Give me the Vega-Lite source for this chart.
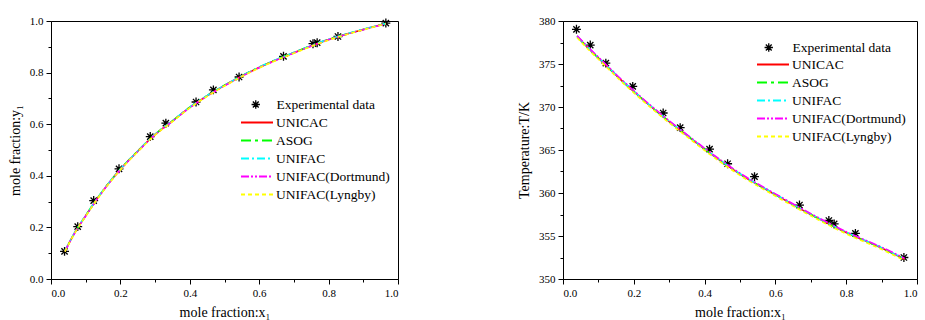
{
  "$schema": "https://vega.github.io/schema/vega-lite/v6.json",
  "autosize": {"type": "pad"},
  "padding": {"left": 7, "top": 14, "right": 5, "bottom": 5},
  "bounds": "flush",
  "spacing": 165,
  "config": {
    "view": {"stroke": "black", "strokeWidth": 1},
    "axis": {
      "grid": false,
      "domainColor": "black",
      "tickColor": "black",
      "labelColor": "black",
      "titleColor": "black",
      "labelFont": "Liberation Serif",
      "titleFont": "Liberation Serif",
      "labelFontSize": 11,
      "titleFontSize": 14,
      "titleFontWeight": "normal"
    },
    "legend": {
      "labelFont": "Liberation Serif",
      "labelFontSize": 13.5,
      "labelColor": "black",
      "padding": 0
    }
  },
  "datasets": {
    "vle_exp": [
      {"x": 0.039, "y": 0.107},
      {"x": 0.077, "y": 0.203},
      {"x": 0.123, "y": 0.304},
      {"x": 0.196, "y": 0.427},
      {"x": 0.286, "y": 0.552},
      {"x": 0.331, "y": 0.604},
      {"x": 0.418, "y": 0.686},
      {"x": 0.468, "y": 0.733},
      {"x": 0.542, "y": 0.783},
      {"x": 0.670, "y": 0.863},
      {"x": 0.755, "y": 0.912},
      {"x": 0.767, "y": 0.916},
      {"x": 0.827, "y": 0.940},
      {"x": 0.965, "y": 0.992}
    ],
    "t_exp": [
      {"x": 0.038, "T": 379.03},
      {"x": 0.077, "T": 377.2},
      {"x": 0.121, "T": 375.1},
      {"x": 0.197, "T": 372.4},
      {"x": 0.283, "T": 369.3},
      {"x": 0.331, "T": 367.6},
      {"x": 0.414, "T": 365.1},
      {"x": 0.465, "T": 363.4},
      {"x": 0.541, "T": 361.9},
      {"x": 0.668, "T": 358.6},
      {"x": 0.751, "T": 356.8},
      {"x": 0.766, "T": 356.4},
      {"x": 0.826, "T": 355.3},
      {"x": 0.963, "T": 352.5}
    ],
    "curve": [
      {"model": "UNICAC", "x": 0.04, "y": 0.108, "T": 378.2},
      {"model": "UNICAC", "x": 0.07, "y": 0.183, "T": 376.9},
      {"model": "UNICAC", "x": 0.10, "y": 0.245, "T": 375.7},
      {"model": "UNICAC", "x": 0.13, "y": 0.305, "T": 374.5},
      {"model": "UNICAC", "x": 0.16, "y": 0.360, "T": 373.3},
      {"model": "UNICAC", "x": 0.20, "y": 0.425, "T": 371.8},
      {"model": "UNICAC", "x": 0.25, "y": 0.495, "T": 370.0},
      {"model": "UNICAC", "x": 0.30, "y": 0.560, "T": 368.3},
      {"model": "UNICAC", "x": 0.35, "y": 0.612, "T": 366.7},
      {"model": "UNICAC", "x": 0.40, "y": 0.665, "T": 365.1},
      {"model": "UNICAC", "x": 0.45, "y": 0.710, "T": 363.6},
      {"model": "UNICAC", "x": 0.50, "y": 0.750, "T": 362.2},
      {"model": "UNICAC", "x": 0.60, "y": 0.820, "T": 359.8},
      {"model": "UNICAC", "x": 0.70, "y": 0.877, "T": 357.5},
      {"model": "UNICAC", "x": 0.80, "y": 0.928, "T": 355.4},
      {"model": "UNICAC", "x": 0.90, "y": 0.967, "T": 353.6},
      {"model": "UNICAC", "x": 0.965, "y": 0.990, "T": 352.3},
      {"model": "ASOG", "x": 0.04, "y": 0.108, "T": 378.2},
      {"model": "ASOG", "x": 0.07, "y": 0.183, "T": 376.9},
      {"model": "ASOG", "x": 0.10, "y": 0.246, "T": 375.7},
      {"model": "ASOG", "x": 0.13, "y": 0.306, "T": 374.5},
      {"model": "ASOG", "x": 0.16, "y": 0.361, "T": 373.3},
      {"model": "ASOG", "x": 0.20, "y": 0.426, "T": 371.8},
      {"model": "ASOG", "x": 0.25, "y": 0.496, "T": 370.0},
      {"model": "ASOG", "x": 0.30, "y": 0.561, "T": 368.3},
      {"model": "ASOG", "x": 0.35, "y": 0.613, "T": 366.7},
      {"model": "ASOG", "x": 0.40, "y": 0.666, "T": 365.1},
      {"model": "ASOG", "x": 0.45, "y": 0.711, "T": 363.6},
      {"model": "ASOG", "x": 0.50, "y": 0.751, "T": 362.2},
      {"model": "ASOG", "x": 0.60, "y": 0.821, "T": 359.8},
      {"model": "ASOG", "x": 0.70, "y": 0.878, "T": 357.5},
      {"model": "ASOG", "x": 0.80, "y": 0.928, "T": 355.4},
      {"model": "ASOG", "x": 0.90, "y": 0.967, "T": 353.6},
      {"model": "ASOG", "x": 0.965, "y": 0.990, "T": 352.3},
      {"model": "UNIFAC", "x": 0.04, "y": 0.109, "T": 378.25},
      {"model": "UNIFAC", "x": 0.07, "y": 0.184, "T": 376.95},
      {"model": "UNIFAC", "x": 0.10, "y": 0.246, "T": 375.75},
      {"model": "UNIFAC", "x": 0.13, "y": 0.306, "T": 374.55},
      {"model": "UNIFAC", "x": 0.16, "y": 0.361, "T": 373.35},
      {"model": "UNIFAC", "x": 0.20, "y": 0.426, "T": 371.85},
      {"model": "UNIFAC", "x": 0.25, "y": 0.496, "T": 370.05},
      {"model": "UNIFAC", "x": 0.30, "y": 0.561, "T": 368.35},
      {"model": "UNIFAC", "x": 0.35, "y": 0.613, "T": 366.75},
      {"model": "UNIFAC", "x": 0.40, "y": 0.666, "T": 365.15},
      {"model": "UNIFAC", "x": 0.45, "y": 0.711, "T": 363.65},
      {"model": "UNIFAC", "x": 0.50, "y": 0.751, "T": 362.25},
      {"model": "UNIFAC", "x": 0.60, "y": 0.821, "T": 359.85},
      {"model": "UNIFAC", "x": 0.70, "y": 0.878, "T": 357.55},
      {"model": "UNIFAC", "x": 0.80, "y": 0.929, "T": 355.45},
      {"model": "UNIFAC", "x": 0.90, "y": 0.968, "T": 353.65},
      {"model": "UNIFAC", "x": 0.965, "y": 0.990, "T": 352.35},
      {"model": "UNIFAC(Dortmund)", "x": 0.04, "y": 0.107, "T": 378.3},
      {"model": "UNIFAC(Dortmund)", "x": 0.07, "y": 0.182, "T": 377.0},
      {"model": "UNIFAC(Dortmund)", "x": 0.10, "y": 0.244, "T": 375.8},
      {"model": "UNIFAC(Dortmund)", "x": 0.13, "y": 0.304, "T": 374.6},
      {"model": "UNIFAC(Dortmund)", "x": 0.16, "y": 0.359, "T": 373.4},
      {"model": "UNIFAC(Dortmund)", "x": 0.20, "y": 0.424, "T": 371.9},
      {"model": "UNIFAC(Dortmund)", "x": 0.25, "y": 0.494, "T": 370.1},
      {"model": "UNIFAC(Dortmund)", "x": 0.30, "y": 0.559, "T": 368.4},
      {"model": "UNIFAC(Dortmund)", "x": 0.35, "y": 0.611, "T": 366.8},
      {"model": "UNIFAC(Dortmund)", "x": 0.40, "y": 0.664, "T": 365.2},
      {"model": "UNIFAC(Dortmund)", "x": 0.45, "y": 0.709, "T": 363.7},
      {"model": "UNIFAC(Dortmund)", "x": 0.50, "y": 0.749, "T": 362.3},
      {"model": "UNIFAC(Dortmund)", "x": 0.60, "y": 0.819, "T": 359.9},
      {"model": "UNIFAC(Dortmund)", "x": 0.70, "y": 0.876, "T": 357.6},
      {"model": "UNIFAC(Dortmund)", "x": 0.80, "y": 0.927, "T": 355.5},
      {"model": "UNIFAC(Dortmund)", "x": 0.90, "y": 0.966, "T": 353.7},
      {"model": "UNIFAC(Dortmund)", "x": 0.965, "y": 0.989, "T": 352.4},
      {"model": "UNIFAC(Lyngby)", "x": 0.04, "y": 0.106, "T": 378.05},
      {"model": "UNIFAC(Lyngby)", "x": 0.07, "y": 0.181, "T": 376.75},
      {"model": "UNIFAC(Lyngby)", "x": 0.10, "y": 0.243, "T": 375.55},
      {"model": "UNIFAC(Lyngby)", "x": 0.13, "y": 0.303, "T": 374.35},
      {"model": "UNIFAC(Lyngby)", "x": 0.16, "y": 0.358, "T": 373.15},
      {"model": "UNIFAC(Lyngby)", "x": 0.20, "y": 0.423, "T": 371.65},
      {"model": "UNIFAC(Lyngby)", "x": 0.25, "y": 0.493, "T": 369.85},
      {"model": "UNIFAC(Lyngby)", "x": 0.30, "y": 0.558, "T": 368.15},
      {"model": "UNIFAC(Lyngby)", "x": 0.35, "y": 0.610, "T": 366.55},
      {"model": "UNIFAC(Lyngby)", "x": 0.40, "y": 0.663, "T": 364.95},
      {"model": "UNIFAC(Lyngby)", "x": 0.45, "y": 0.708, "T": 363.45},
      {"model": "UNIFAC(Lyngby)", "x": 0.50, "y": 0.748, "T": 362.05},
      {"model": "UNIFAC(Lyngby)", "x": 0.60, "y": 0.818, "T": 359.65},
      {"model": "UNIFAC(Lyngby)", "x": 0.70, "y": 0.875, "T": 357.35},
      {"model": "UNIFAC(Lyngby)", "x": 0.80, "y": 0.926, "T": 355.25},
      {"model": "UNIFAC(Lyngby)", "x": 0.90, "y": 0.966, "T": 353.45},
      {"model": "UNIFAC(Lyngby)", "x": 0.965, "y": 0.989, "T": 352.15}
    ]
  },
  "resolve": {
    "legend": {"color": "independent", "strokeDash": "independent", "shape": "independent"}
  },
  "hconcat": [
    {
      "width": 347,
      "height": 258,
      "resolve": {"axis": {"x": "independent", "y": "independent"}},
      "layer": [
        {
          "data": {"name": "vle_exp"},
          "mark": {"type": "point", "filled": false, "stroke": "black", "strokeWidth": 1.3, "size": 80, "opacity": 1},
          "encoding": {
            "x": {"field": "x", "type": "quantitative", "scale": {"domain": [0, 1], "nice": false},
              "axis": {"orient": "bottom", "values": [0, 0.2, 0.4, 0.6, 0.8, 1], "format": ".1f", "title": "mole fraction:x₁", "tickSize": 5, "labelPadding": 3, "titlePadding": 7}},
            "y": {"field": "y", "type": "quantitative", "scale": {"domain": [0, 1], "nice": false},
              "axis": {"orient": "left", "values": [0, 0.2, 0.4, 0.6, 0.8, 1], "format": ".1f", "title": "mole fraction:y₁", "tickSize": 5, "labelPadding": 3, "titlePadding": 7}},
            "shape": {"datum": "Experimental data", "type": "nominal",
              "scale": {"range": ["M-1,0L1,0M0,-1L0,1M-0.7,-0.7L0.7,0.7M-0.7,0.7L0.7,-0.7"]},
              "legend": {"title": null, "orient": "none", "legendX": 198, "legendY": 75, "symbolSize": 70, "symbolStrokeColor": "black", "symbolFillColor": "transparent", "symbolStrokeWidth": 1.3, "labelOffset": 14, "clipHeight": 17}}
          }
        },
        {
          "data": {"name": "curve"},
          "mark": {"type": "line", "strokeWidth": 1.6, "interpolate": "monotone"},
          "encoding": {
            "x": {"field": "x", "type": "quantitative",
              "axis": {"orient": "bottom", "values": [0.1, 0.3, 0.5, 0.7, 0.9], "labels": false, "title": null, "domain": false, "tickSize": 3}},
            "y": {"field": "y", "type": "quantitative",
              "axis": {"orient": "left", "values": [0.1, 0.3, 0.5, 0.7, 0.9], "labels": false, "title": null, "domain": false, "tickSize": 3}},
            "color": {"field": "model", "type": "nominal",
              "scale": {"domain": ["UNICAC", "ASOG", "UNIFAC", "UNIFAC(Dortmund)", "UNIFAC(Lyngby)"], "range": ["#ff0000", "#00ff00", "#00ffff", "#ff00ff", "#ffff00"]},
              "legend": {"title": null, "orient": "none", "legendX": 189, "legendY": 93, "symbolType": "stroke", "symbolSize": 1024, "symbolStrokeWidth": 2, "labelOffset": 2, "clipHeight": 17.1, "rowPadding": 0}},
            "strokeDash": {"field": "model", "type": "nominal",
              "scale": {"domain": ["UNICAC", "ASOG", "UNIFAC", "UNIFAC(Dortmund)", "UNIFAC(Lyngby)"], "range": [[1, 0], [10, 4, 3, 4], [8, 3, 2, 3], [8, 2, 2, 2, 2, 2], [4, 3]]},
              "legend": {"title": null, "orient": "none", "legendX": 189, "legendY": 93, "symbolType": "stroke", "symbolSize": 1024, "symbolStrokeWidth": 2, "labelOffset": 2, "clipHeight": 17.1, "rowPadding": 0}}
          }
        }
      ]
    },
    {
      "width": 354,
      "height": 258,
      "resolve": {"axis": {"x": "independent", "y": "independent"}},
      "layer": [
        {
          "data": {"name": "t_exp"},
          "mark": {"type": "point", "filled": false, "stroke": "black", "strokeWidth": 1.3, "size": 80, "opacity": 1},
          "encoding": {
            "x": {"field": "x", "type": "quantitative", "scale": {"domain": [0, 1], "nice": false},
              "axis": {"orient": "bottom", "values": [0, 0.2, 0.4, 0.6, 0.8, 1], "format": ".1f", "title": "mole fraction:x₁", "tickSize": 5, "labelPadding": 3, "titlePadding": 7}},
            "y": {"field": "T", "type": "quantitative", "scale": {"domain": [350, 380], "nice": false, "zero": false},
              "axis": {"orient": "left", "values": [350, 355, 360, 365, 370, 375, 380], "title": "Temperature:T/K", "tickSize": 5, "labelPadding": 3, "titlePadding": 7}},
            "shape": {"datum": "Experimental data", "type": "nominal",
              "scale": {"range": ["M-1,0L1,0M0,-1L0,1M-0.7,-0.7L0.7,0.7M-0.7,0.7L0.7,-0.7"]},
              "legend": {"title": null, "orient": "none", "legendX": 199, "legendY": 18, "symbolSize": 70, "symbolStrokeColor": "black", "symbolFillColor": "transparent", "symbolStrokeWidth": 1.3, "labelOffset": 17, "clipHeight": 17}}
          }
        },
        {
          "data": {"name": "curve"},
          "mark": {"type": "line", "strokeWidth": 1.6, "interpolate": "monotone"},
          "encoding": {
            "x": {"field": "x", "type": "quantitative",
              "axis": {"orient": "bottom", "values": [0.1, 0.3, 0.5, 0.7, 0.9], "labels": false, "title": null, "domain": false, "tickSize": 3}},
            "y": {"field": "T", "type": "quantitative",
              "axis": {"orient": "left", "values": [352.5, 357.5, 362.5, 367.5, 372.5, 377.5], "labels": false, "title": null, "domain": false, "tickSize": 3}},
            "color": {"field": "model", "type": "nominal",
              "scale": {"domain": ["UNICAC", "ASOG", "UNIFAC", "UNIFAC(Dortmund)", "UNIFAC(Lyngby)"], "range": ["#ff0000", "#00ff00", "#00ffff", "#ff00ff", "#ffff00"]},
              "legend": {"title": null, "orient": "none", "legendX": 193, "legendY": 35, "symbolType": "stroke", "symbolSize": 1024, "symbolStrokeWidth": 2, "labelOffset": 2, "clipHeight": 17.1, "rowPadding": 0}},
            "strokeDash": {"field": "model", "type": "nominal",
              "scale": {"domain": ["UNICAC", "ASOG", "UNIFAC", "UNIFAC(Dortmund)", "UNIFAC(Lyngby)"], "range": [[1, 0], [10, 4, 3, 4], [8, 3, 2, 3], [8, 2, 2, 2, 2, 2], [4, 3]]},
              "legend": {"title": null, "orient": "none", "legendX": 193, "legendY": 35, "symbolType": "stroke", "symbolSize": 1024, "symbolStrokeWidth": 2, "labelOffset": 2, "clipHeight": 17.1, "rowPadding": 0}}
          }
        }
      ]
    }
  ]
}
